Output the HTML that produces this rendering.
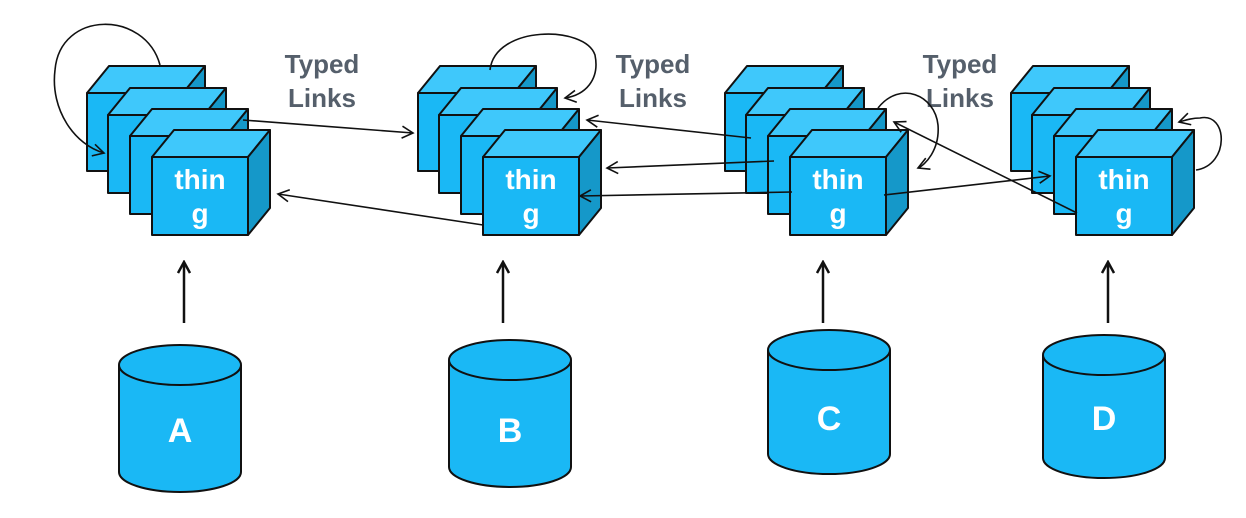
<!DOCTYPE html>
<html><head><meta charset="utf-8"><style>
html,body{margin:0;padding:0;background:#fff;}
svg{display:block;}
text{font-family:"Liberation Sans",sans-serif;font-weight:bold;}
</style></head><body>
<svg width="1246" height="518" viewBox="0 0 1246 518" xmlns="http://www.w3.org/2000/svg">
<defs>
<g id="cube" stroke="#111" stroke-width="2" stroke-linejoin="round">
<polygon points="0,0 22,-27 118,-27 96,0" fill="#3fc8fb"/>
<polygon points="96,0 118,-27 118,51 96,78" fill="#1598c9"/>
<rect x="0" y="0" width="96" height="78" fill="#1ab8f5"/>
</g>
<g id="grp">
<use href="#cube" x="87" y="93"/>
<use href="#cube" x="108" y="115"/>
<use href="#cube" x="130" y="136"/>
<use href="#cube" x="152" y="157"/>
</g>
<marker id="ah" markerWidth="14" markerHeight="14" refX="12" refY="7" orient="auto" markerUnits="userSpaceOnUse">
<path d="M1,1 L12,7 L1,13" fill="none" stroke="#111" stroke-width="1.6"/>
</marker>
<marker id="ahb" markerWidth="14" markerHeight="14" refX="12" refY="7" orient="auto" markerUnits="userSpaceOnUse">
<path d="M1,1 L12,7 L1,13" fill="none" stroke="#111" stroke-width="2.5"/>
</marker>
</defs>

<use href="#grp" x="0" y="0"/>
<use href="#grp" x="331" y="0"/>
<use href="#grp" x="638" y="0"/>
<use href="#grp" x="924" y="0"/>

<g fill="#fff" font-size="28" text-anchor="middle">
<text x="200" y="189">thin</text><text x="200" y="223">g</text>
<text x="531" y="189">thin</text><text x="531" y="223">g</text>
<text x="838" y="189">thin</text><text x="838" y="223">g</text>
<text x="1124" y="189">thin</text><text x="1124" y="223">g</text>
</g>

<g fill="#555f6b" font-size="26" text-anchor="middle">
<text x="322" y="73">Typed</text><text x="322" y="107">Links</text>
<text x="653" y="73">Typed</text><text x="653" y="107">Links</text>
<text x="960" y="73">Typed</text><text x="960" y="107">Links</text>
</g>

<g fill="none" stroke="#111" stroke-width="1.6" marker-end="url(#ah)">
<path d="M243,120 L413,133"/>
<path d="M483,225 L278,194"/>
<path d="M751,138 L587,120"/>
<path d="M774,161 L607,168"/>
<path d="M792,192 L580,196"/>
<path d="M884,195 L1050,176"/>
<path d="M1077,213 L894,122"/>
<path d="M160,65 C145,10 60,10 55,70 C50,110 75,145 104,153"/>
<path d="M490,70 C495,25 585,25 595,55 C600,80 585,95 565,98"/>
<path d="M878,108 C900,80 935,95 938,125 C940,150 925,165 918,168"/>
<path d="M1196,170 C1230,165 1228,112 1200,118 C1192,118 1186,120 1179,122"/>
</g>

<g stroke="#111" stroke-width="2.5" marker-end="url(#ahb)">
<line x1="184" y1="323" x2="184" y2="262"/>
<line x1="503" y1="323" x2="503" y2="262"/>
<line x1="823" y1="323" x2="823" y2="262"/>
<line x1="1108" y1="323" x2="1108" y2="262"/>
</g>

<g stroke="#111" stroke-width="2" fill="#1ab8f5">
<path d="M119,365 L119,472 A61,20 0 0 0 241,472 L241,365"/>
<ellipse cx="180" cy="365" rx="61" ry="20"/>
<path d="M449,360 L449,467 A61,20 0 0 0 571,467 L571,360"/>
<ellipse cx="510" cy="360" rx="61" ry="20"/>
<path d="M768,350 L768,454 A61,20 0 0 0 890,454 L890,350"/>
<ellipse cx="829" cy="350" rx="61" ry="20"/>
<path d="M1043,355 L1043,458 A61,20 0 0 0 1165,458 L1165,355"/>
<ellipse cx="1104" cy="355" rx="61" ry="20"/>
</g>
<g fill="#fff" font-size="34" text-anchor="middle">
<text x="180" y="442">A</text>
<text x="510" y="442">B</text>
<text x="829" y="430">C</text>
<text x="1104" y="430">D</text>
</g>
</svg>
</body></html>
